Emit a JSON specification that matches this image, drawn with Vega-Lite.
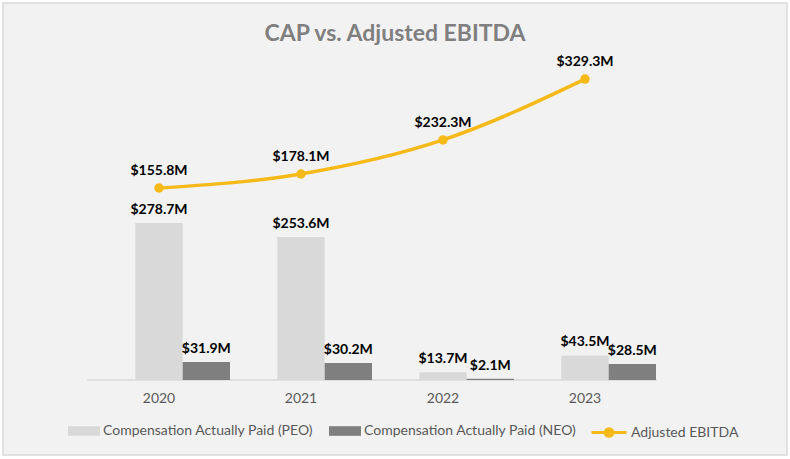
{
  "$schema": "https://vega.github.io/schema/vega-lite/v6.json",
  "width": 784,
  "height": 452,
  "autosize": {"type": "none"},
  "padding": 3,
  "background": "#ffffff",
  "config": {
    "font": "Lato, sans-serif",
    "view": {"stroke": "#d9d9d9", "strokeWidth": 1.5, "fill": "#f2f2f2"}
  },
  "title": {
    "text": "CAP vs. Adjusted EBITDA",
    "anchor": "middle",
    "frame": "group",
    "fontSize": 23,
    "fontWeight": "bold",
    "color": "#7f7f7f",
    "offset": -43
  },
  "datasets": {
    "cap": [
      {"year": "2020", "series": "Compensation Actually Paid (PEO)", "value": 278.7},
      {"year": "2020", "series": "Compensation Actually Paid (NEO)", "value": 31.9},
      {"year": "2021", "series": "Compensation Actually Paid (PEO)", "value": 253.6},
      {"year": "2021", "series": "Compensation Actually Paid (NEO)", "value": 30.2},
      {"year": "2022", "series": "Compensation Actually Paid (PEO)", "value": 13.7},
      {"year": "2022", "series": "Compensation Actually Paid (NEO)", "value": 2.1},
      {"year": "2023", "series": "Compensation Actually Paid (PEO)", "value": 43.5},
      {"year": "2023", "series": "Compensation Actually Paid (NEO)", "value": 28.5}
    ],
    "ebitda": [
      {"year": "2020", "series": "Adjusted EBITDA", "value": 155.8},
      {"year": "2021", "series": "Adjusted EBITDA", "value": 178.1},
      {"year": "2022", "series": "Adjusted EBITDA", "value": 232.3},
      {"year": "2023", "series": "Adjusted EBITDA", "value": 329.3}
    ]
  },
  "encoding": {
    "x": {
      "field": "year",
      "type": "nominal",
      "scale": {"paddingInner": 0, "paddingOuter": 0.7606, "align": 0.3935},
      "axis": {
        "title": null,
        "labelAngle": 0,
        "ticks": false,
        "domain": false,
        "grid": false,
        "offset": -75,
        "labelPadding": 11,
        "labelFontSize": 14,
        "labelColor": "#595959"
      }
    }
  },
  "layer": [
    {
      "data": {"name": "cap"},
      "transform": [{"calculate": "'$' + format(datum.value, '.1f') + 'M'", "as": "label"}],
      "layer": [
        {
          "mark": {"type": "tick", "orient": "horizontal", "size": 143, "thickness": 1.5, "color": "#d9d9d9"},
          "encoding": {
            "y": {"datum": 0, "type": "quantitative", "scale": {"domain": [-133.1, 669], "nice": false, "zero": false}, "axis": null}
          }
        },
        {
          "mark": {"type": "bar"},
          "encoding": {
            "xOffset": {
              "field": "series",
              "type": "nominal",
              "scale": {"domain": ["Adjusted EBITDA", "Compensation Actually Paid (PEO)", "Compensation Actually Paid (NEO)"], "paddingInner": 0, "paddingOuter": 0}
            },
            "y": {"field": "value", "type": "quantitative", "scale": {"domain": [-133.1, 669], "nice": false, "zero": false}, "axis": null},
            "y2": {"datum": 0},
            "fill": {
              "field": "series",
              "type": "nominal",
              "scale": {"domain": ["Compensation Actually Paid (PEO)", "Compensation Actually Paid (NEO)"], "range": ["#d9d9d9", "#7f7f7f"]},
              "legend": {
                "title": null,
                "orient": "none",
                "direction": "horizontal",
                "legendX": 65,
                "legendY": 412,
                "padding": 0,
                "symbolType": "M-1,-0.3H1V0.3H-1Z",
                "symbolSize": 1024,
                "symbolStrokeWidth": 0,
                "labelFontSize": 14,
                "labelColor": "#595959",
                "labelOffset": 3,
                "labelLimit": 0,
                "columnPadding": 15
              }
            }
          }
        },
        {
          "mark": {"type": "text", "fontSize": 14, "fontWeight": "bold", "color": "#000000", "dy": -13},
          "encoding": {
            "xOffset": {
              "field": "series",
              "type": "nominal",
              "scale": {"domain": ["Adjusted EBITDA", "Compensation Actually Paid (PEO)", "Compensation Actually Paid (NEO)"], "paddingInner": 0, "paddingOuter": 0}
            },
            "y": {"field": "value", "type": "quantitative", "scale": {"domain": [-133.1, 669], "nice": false, "zero": false}, "axis": null},
            "text": {"field": "label", "type": "nominal"}
          }
        }
      ]
    },
    {
      "data": {"name": "ebitda"},
      "transform": [{"calculate": "'$' + format(datum.value, '.1f') + 'M'", "as": "label"}],
      "layer": [
        {
          "mark": {"type": "line", "interpolate": "monotone", "strokeWidth": 3.5},
          "encoding": {
            "y": {"field": "value", "type": "quantitative", "scale": {"domain": [-269.4, 450.4], "nice": false, "zero": false}, "axis": null},
            "stroke": {
              "field": "series",
              "type": "nominal",
              "scale": {"domain": ["Adjusted EBITDA"], "range": ["#F5B918"]},
              "legend": {
                "title": null,
                "orient": "none",
                "direction": "horizontal",
                "legendX": 587,
                "legendY": 410.5,
                "padding": 0,
                "symbolType": "M-1,0H1M0.22,0A0.22,0.22 0 1,1 -0.22,0A0.22,0.22 0 1,1 0.22,0Z",
                "symbolSize": 1225,
                "symbolStrokeWidth": 3,
                "symbolFillColor": "#F5B918",
                "labelFontSize": 14,
                "labelColor": "#595959",
                "labelOffset": 3,
                "labelLimit": 0
              }
            }
          }
        },
        {
          "mark": {"type": "circle", "size": 90, "color": "#F5B918", "opacity": 1},
          "encoding": {
            "y": {"field": "value", "type": "quantitative", "scale": {"domain": [-269.4, 450.4], "nice": false, "zero": false}, "axis": null}
          }
        },
        {
          "mark": {"type": "text", "fontSize": 14, "fontWeight": "bold", "color": "#000000", "dy": -17},
          "encoding": {
            "y": {"field": "value", "type": "quantitative", "scale": {"domain": [-269.4, 450.4], "nice": false, "zero": false}, "axis": null},
            "text": {"field": "label", "type": "nominal"}
          }
        }
      ],
      "resolve": {"scale": {"y": "shared"}}
    }
  ],
  "resolve": {"scale": {"y": "independent", "fill": "independent", "stroke": "independent"}}
}
